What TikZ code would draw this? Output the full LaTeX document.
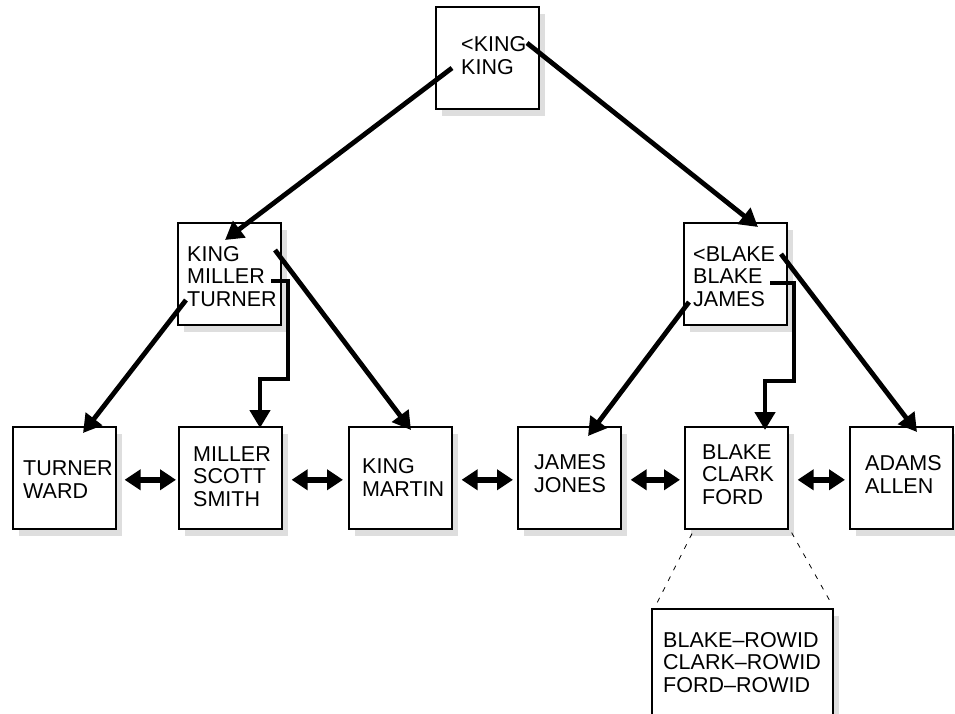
\documentclass[tikz,border=0pt]{standalone}
\usepackage{fontspec}
\setmainfont{Liberation Sans}
\usetikzlibrary{arrows.meta,shadows,calc}
\begin{document}
\begin{tikzpicture}[x=1pt,y=-1pt,
  box/.style={draw=black,line width=1.6pt,fill=white,anchor=north west,
    minimum width=103pt,minimum height=102pt,inner sep=0pt,
    drop shadow={shadow xshift=6pt,shadow yshift=-7pt,fill=black!13,opacity=1}},
  txt/.style={anchor=base west,inner sep=0pt,align=left,
    font=\fontsize{21.5}{22.5}\selectfont},
  link/.style={line width=4.8pt,-{Triangle[length=18pt,width=20pt]}},
  dbl/.style={line width=5.5pt,{Triangle[length=16pt,width=20pt]}-{Triangle[length=16pt,width=20pt]}},
  dots/.style={line width=0.8pt,dash pattern=on 5pt off 7pt}]
\useasboundingbox (0,0) rectangle (955,713);
% boxes
\node[box] (top) at (435,6) {};
\node[box] (ml) at (177,222) {};
\node[box] (mr) at (683,222) {};
\node[box] (l1) at (12,426) {};
\node[box] (l2) at (178,426) {};
\node[box] (l3) at (348,426) {};
\node[box] (l4) at (517,426) {};
\node[box] (l5) at (684,426) {};
\node[box] (l6) at (849,426) {};
\node[box,minimum width=181pt,minimum height=112pt] (rw) at (651,608) {};
% texts (anchor = baseline of last line)
\node[txt] (ttop) at (461,74) {<KING\\KING};
\node[txt] (tml) at (187,306) {KING\\MILLER\\TURNER};
\node[txt] (tmr) at (693,306) {<BLAKE\\BLAKE\\JAMES};
\node[txt] (tl1) at (23,498) {TURNER\\WARD};
\node[txt] (tl2) at (193,506) {MILLER\\SCOTT\\SMITH};
\node[txt] (tl3) at (362,496) {KING\\MARTIN};
\node[txt] (tl4) at (534,492) {JAMES\\JONES};
\node[txt] (tl5) at (702,504) {BLAKE\\CLARK\\FORD};
\node[txt] (tl6) at (865,493) {ADAMS\\ALLEN};
\node[txt] (trw) at (663,692) {BLAKE--ROWID\\CLARK--ROWID\\FORD--ROWID};
% connector end points
\coordinate (a1) at (452,68);   \coordinate (b1) at (225,240);
\coordinate (a2) at (527,43);   \coordinate (b2) at (758,227);
\coordinate (a3) at (186,300);  \coordinate (b3) at (83,433);
\coordinate (a4) at (271,281);  \coordinate (b4) at (260,428);
\coordinate (a5) at (275,250);  \coordinate (b5) at (411,430);
\coordinate (a6) at (689,302);  \coordinate (b6) at (588,436);
\coordinate (a7) at (770,283);  \coordinate (b7) at (765,430);
\coordinate (a8) at (781,254);  \coordinate (b8) at (917,432);
\draw[link] (a1) -- (b1);
\draw[link] (a2) -- (b2);
\draw[link] (a3) -- (b3);
\draw[link] (a4) -- (288,281) -- (288,379) -- (260,379) -- (b4);
\draw[link] (a5) -- (b5);
\draw[link] (a6) -- (b6);
\draw[link] (a7) -- (794,283) -- (794,381) -- (765,381) -- (b7);
\draw[link] (a8) -- (b8);
% leaf chain
\draw[dbl] ($(l1.east)+(8,2)$) -- ($(l2.west)+(-2,2)$);
\draw[dbl] ($(l2.east)+(9,2)$) -- ($(l3.west)+(-5,2)$);
\draw[dbl] ($(l3.east)+(9,2)$) -- ($(l4.west)+(-4,2)$);
\draw[dbl] ($(l4.east)+(9,2)$) -- ($(l5.west)+(-4,2)$);
\draw[dbl] ($(l5.east)+(9,2)$) -- ($(l6.west)+(-4,2)$);
% expansion
\draw[dots] ($(l5.south west)+(8,4)$) -- ($(rw.north west)+(6,-5)$);
\draw[dots] ($(l5.south east)+(3,3)$) -- ($(rw.north east)+(-2,-4)$);
\end{tikzpicture}
\end{document}
